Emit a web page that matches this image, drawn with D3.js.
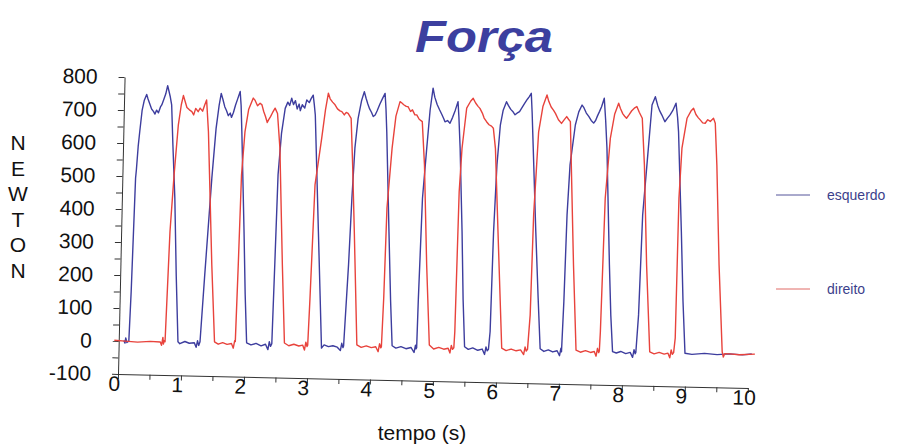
<!DOCTYPE html>
<html>
<head>
<meta charset="utf-8">
<script src="https://cdn.jsdelivr.net/npm/d3@7"></script>
<style>
  body { margin: 0; background: #fff; }
  svg { display: block; font-family: "Liberation Sans", Arial, sans-serif; }
</style>
</head>
<body>
<div id="chart"></div>
<script>
// esquerdo (left foot) - [tempo s, newton]
const esquerdo = [
  [0.08, 2], [0.10, -6], [0.11, 10], [0.13, -4], [0.16, 0],
  [0.18, 150], [0.21, 495], [0.22, 520], [0.24, 590], [0.26, 636], [0.29, 700], [0.32, 730], [0.357, 749],
  [0.38, 735], [0.41, 720], [0.44, 705], [0.47, 698], [0.495, 690], [0.52, 702], [0.55, 694], [0.58, 712],
  [0.60, 718], [0.63, 735], [0.66, 752], [0.687, 777], [0.71, 760], [0.73, 745], [0.757, 719], [0.79, 600],
  [0.84, 437], [0.89, 200], [0.94, 2],
  [0.97, -4], [1.05, 3], [1.12, -2], [1.20, 0], [1.23, -14], [1.25, 6], [1.27, -8], [1.29, 3],
  [1.34, 200], [1.42, 499], [1.47, 650], [1.51, 720], [1.54, 757], [1.57, 738], [1.60, 717], [1.63, 705],
  [1.66, 690], [1.69, 698], [1.71, 685], [1.74, 700], [1.77, 722], [1.80, 740], [1.84, 764], [1.86, 720],
  [1.88, 643], [1.95, 340], [1.99, 150], [2.03, 3],
  [2.10, -3], [2.18, 2], [2.26, -5], [2.33, 0], [2.37, -16], [2.39, 8], [2.41, -6], [2.43, 2],
  [2.45, 250], [2.47, 514], [2.51, 640], [2.56, 716], [2.60, 735], [2.63, 725], [2.66, 747], [2.69, 728],
  [2.72, 740], [2.75, 715], [2.78, 730], [2.80, 710], [2.83, 728], [2.87, 718], [2.90, 743], [2.94, 735],
  [2.97, 748], [3.00, 758], [3.02, 730], [3.04, 698], [3.13, 345], [3.18, 150], [3.22, -8],
  [3.26, 2], [3.33, -3], [3.40, 0], [3.47, -4], [3.52, -14], [3.54, 8], [3.56, -5], [3.57, 0],
  [3.62, 246], [3.65, 448], [3.68, 600], [3.72, 690], [3.77, 745], [3.81, 772], [3.84, 752], [3.87, 735],
  [3.90, 720], [3.93, 710], [3.96, 697], [3.99, 702], [4.02, 715], [4.06, 735], [4.10, 752], [4.14, 768],
  [4.16, 720], [4.18, 652], [4.25, 349], [4.30, 140], [4.34, 4],
  [4.40, -3], [4.48, 2], [4.56, -4], [4.64, 0], [4.69, -15], [4.71, 7], [4.72, -4], [4.73, 0],
  [4.74, 150], [4.77, 453], [4.82, 605], [4.86, 720], [4.90, 787], [4.93, 760], [4.97, 738], [5.01, 722],
  [5.05, 707], [5.08, 695], [5.10, 686], [5.14, 690], [5.18, 682], [5.22, 700], [5.26, 722], [5.30, 748],
  [5.32, 700], [5.35, 607], [5.41, 354], [5.45, 150], [5.49, 6],
  [5.55, -2], [5.62, 3], [5.70, -4], [5.77, 0], [5.81, -16], [5.83, 7], [5.85, -5], [5.87, 0],
  [5.89, 53], [5.91, 356], [5.94, 559], [5.98, 680], [6.02, 725], [6.07, 751], [6.10, 740], [6.14, 728],
  [6.18, 720], [6.21, 712], [6.24, 717], [6.28, 722], [6.32, 735], [6.36, 748], [6.40, 760], [6.43, 768],
  [6.46, 778], [6.48, 720], [6.51, 612], [6.58, 359], [6.64, 160], [6.69, 5],
  [6.75, -3], [6.82, 2], [6.89, -4], [6.96, 0], [7.00, -15], [7.02, 8], [7.03, -3],
  [7.05, 150], [7.07, 412], [7.10, 564], [7.17, 685], [7.22, 725], [7.27, 746], [7.30, 738], [7.34, 722],
  [7.38, 712], [7.42, 700], [7.46, 692], [7.49, 700], [7.52, 715], [7.55, 728], [7.58, 742], [7.62, 768],
  [7.65, 700], [7.68, 617], [7.76, 263], [7.80, 110], [7.84, 1],
  [7.90, -3], [7.97, 2], [8.05, -4], [8.12, 0], [8.16, -15], [8.18, 8], [8.20, -4], [8.21, 0],
  [8.24, 114], [8.27, 417], [8.32, 569], [8.38, 751], [8.43, 776], [8.47, 750], [8.50, 735], [8.54, 721],
  [8.59, 701], [8.63, 712], [8.67, 722], [8.71, 735], [8.76, 758], [8.79, 715], [8.81, 672], [8.89, 369],
  [8.94, 160], [8.99, 1],
  [9.10, -2], [9.30, 2], [9.50, -1], [9.70, 2], [9.90, 0], [10.05, 3]
];

// direito (right foot) - [tempo s, newton]
const direito = [
  [-0.07, 2], [0.10, 0], [0.30, -2], [0.50, 1], [0.66, 0], [0.68, -10], [0.70, 14], [0.71, -6], [0.72, 4], [0.735, 1],
  [0.775, 335], [0.82, 507], [0.87, 659], [0.91, 720], [0.94, 748], [0.97, 730], [1.00, 712], [1.04, 705],
  [1.08, 700], [1.11, 690], [1.14, 710], [1.18, 700], [1.21, 711], [1.25, 702], [1.28, 720], [1.31, 736],
  [1.35, 640], [1.45, 237], [1.52, 4],
  [1.58, -3], [1.65, 2], [1.72, -3], [1.79, 0], [1.82, -14], [1.84, 9], [1.85, 6],
  [1.87, 238], [1.89, 511], [1.93, 643], [1.98, 710], [2.05, 745], [2.08, 738], [2.12, 722], [2.16, 730],
  [2.19, 725], [2.22, 705], [2.25, 690], [2.28, 672], [2.30, 680], [2.33, 690], [2.36, 702], [2.40, 716],
  [2.44, 700], [2.49, 595], [2.57, 241], [2.63, 5],
  [2.70, -3], [2.78, 2], [2.86, -3], [2.92, 0], [2.95, -15], [2.97, 9], [2.99, -4], [3.00, 0],
  [3.02, 142], [3.06, 486], [3.15, 628], [3.20, 715], [3.24, 765], [3.27, 748], [3.31, 738], [3.35, 730],
  [3.39, 718], [3.43, 712], [3.46, 710], [3.50, 700], [3.53, 708], [3.56, 705], [3.61, 690], [3.65, 549],
  [3.70, 347], [3.78, 4],
  [3.85, -3], [3.93, 2], [4.01, -3], [4.08, 0], [4.12, -15], [4.14, 9], [4.16, -3], [4.17, 0],
  [4.19, 148], [4.21, 421], [4.27, 602], [4.32, 700], [4.38, 744], [4.41, 740], [4.44, 735], [4.48, 730],
  [4.51, 729], [4.55, 715], [4.58, 720], [4.62, 705], [4.65, 705], [4.69, 692], [4.74, 685], [4.79, 554],
  [4.86, 251], [4.93, 9],
  [5.00, -3], [5.08, 2], [5.16, -3], [5.23, 0], [5.26, -14], [5.28, 9], [5.30, -3], [5.32, 2],
  [5.33, 51], [5.35, 475], [5.38, 607], [5.44, 729], [5.50, 750], [5.54, 759], [5.58, 745], [5.62, 735],
  [5.65, 729], [5.69, 715], [5.72, 700], [5.76, 689], [5.80, 680], [5.84, 676], [5.87, 670], [5.91, 609],
  [5.98, 357], [6.08, 4],
  [6.15, -3], [6.23, 2], [6.31, -3], [6.38, 0], [6.43, -14], [6.45, 9], [6.47, -3], [6.49, 2],
  [6.52, 106], [6.54, 410], [6.59, 662], [6.65, 740], [6.71, 774], [6.74, 755], [6.78, 738], [6.82, 728],
  [6.85, 719], [6.90, 700], [6.95, 689], [6.99, 700], [7.03, 710], [7.06, 702], [7.09, 695], [7.12, 564],
  [7.19, 261], [7.26, 3],
  [7.33, -3], [7.41, 2], [7.49, -3], [7.55, 0], [7.58, -14], [7.60, 10], [7.62, -3], [7.63, 2],
  [7.64, 61], [7.67, 465], [7.73, 647], [7.79, 720], [7.85, 754], [7.88, 738], [7.92, 722], [7.95, 715],
  [7.98, 709], [8.02, 720], [8.06, 732], [8.10, 740], [8.14, 745], [8.18, 728], [8.23, 710], [8.28, 569],
  [8.35, 266], [8.43, 3],
  [8.50, -3], [8.58, 2], [8.66, -3], [8.72, 0], [8.75, -14], [8.77, 10], [8.79, -3], [8.81, 2],
  [8.83, 46], [8.84, 470], [8.87, 622], [8.94, 713], [9.00, 735], [9.04, 744], [9.08, 725], [9.12, 715],
  [9.15, 709], [9.19, 700], [9.23, 699], [9.27, 710], [9.31, 705], [9.36, 715], [9.39, 700], [9.43, 573],
  [9.50, 271], [9.58, 8],
  [9.60, -8], [9.62, 2], [9.70, 2], [9.85, 0], [10.1, 3]
];

const xLabels = [0, 1, 2, 3, 4, 5, 6, 7, 8, 9, 10];
const yLabels = [-100, 0, 100, 200, 300, 400, 500, 600, 700, 800];
const yTitle = ["N", "E", "W", "T", "O", "N"];
const seriesNames = ["esquerdo", "direito"];

const width = 898, height = 446;
// the scanned chart sits slightly tilted
const origin = { x: 118, y: 374 }, tilt = 1.27;
const plotW = 630, plotH = 297;
const blue = "#3d3d9e", red = "#e8433c";

const svg = d3.select("#chart").append("svg")
    .attr("width", width)
    .attr("height", height);

const x = d3.scaleLinear().domain([0, 10]).range([0, plotW]);
const y = d3.scaleLinear().domain([-100, 800]).range([0, -plotH]);

const g = svg.append("g")
    .attr("transform", `translate(${origin.x},${origin.y}) rotate(${tilt})`);

// x axis, minor ticks every half second
const xAxis = g.append("g")
    .call(d3.axisBottom(x)
        .tickValues(d3.range(0, 10.01, 0.5))
        .tickSize(5)
        .tickSizeOuter(0)
        .tickFormat(d => xLabels.includes(d) ? d : ""));
xAxis.selectAll("text")
    .attr("y", 2)
    .attr("x", -4)
    .style("font-size", "21px")
    .attr("fill", "#111");

// y axis, minor ticks every 50
const yAxis = g.append("g")
    .call(d3.axisLeft(y)
        .tickValues(d3.range(-100, 801, 50))
        .tickSize(6)
        .tickSizeOuter(0)
        .tickFormat(d => yLabels.includes(d) ? d : ""));
yAxis.selectAll("text")
    .attr("x", -27)
    .style("font-size", "21px")
    .attr("fill", "#111");

g.selectAll(".domain, .tick line").attr("stroke", "#333");

const line = d3.line().x(d => x(d[0])).y(d => y(d[1]));

g.append("path")
    .datum(esquerdo)
    .attr("fill", "none")
    .attr("stroke", blue)
    .attr("stroke-width", 1.4)
    .attr("stroke-linejoin", "round")
    .attr("d", line);

g.append("path")
    .datum(direito)
    .attr("fill", "none")
    .attr("stroke", red)
    .attr("stroke-width", 1.4)
    .attr("stroke-linejoin", "round")
    .attr("d", line);

// title
svg.append("text")
    .attr("x", 484)
    .attr("y", 52)
    .attr("text-anchor", "middle")
    .attr("fill", "#3c3f9f")
    .style("font-size", "44px")
    .style("font-weight", "bold")
    .style("font-style", "italic")
    .attr("textLength", 138)
    .attr("lengthAdjust", "spacingAndGlyphs")
    .text("Força");

// vertical NEWTON label
svg.selectAll(".ytitle")
    .data(yTitle)
    .enter()
    .append("text")
    .attr("class", "ytitle")
    .attr("x", 18)
    .attr("y", (d, i) => 150 + i * 25.6)
    .attr("text-anchor", "middle")
    .attr("fill", "#111")
    .style("font-size", "21px")
    .text(d => d);

// x axis title
svg.append("text")
    .attr("x", 422)
    .attr("y", 440)
    .attr("text-anchor", "middle")
    .attr("fill", "#111")
    .style("font-size", "21px")
    .text("tempo (s)");

// legend
const legend = svg.selectAll(".legend")
    .data(seriesNames)
    .enter()
    .append("g")
    .attr("class", "legend")
    .attr("transform", (d, i) => `translate(776,${195 + i * 94})`);

legend.append("line")
    .attr("x1", 0)
    .attr("x2", 34)
    .attr("stroke", (d, i) => i === 0 ? "#55559a" : "#e06a66")
    .attr("stroke-width", 1);

legend.append("text")
    .attr("x", 51)
    .attr("y", 5)
    .attr("fill", "#3c3f8c")
    .style("font-size", "14px")
    .text(d => d);
</script>
</body>
</html>
